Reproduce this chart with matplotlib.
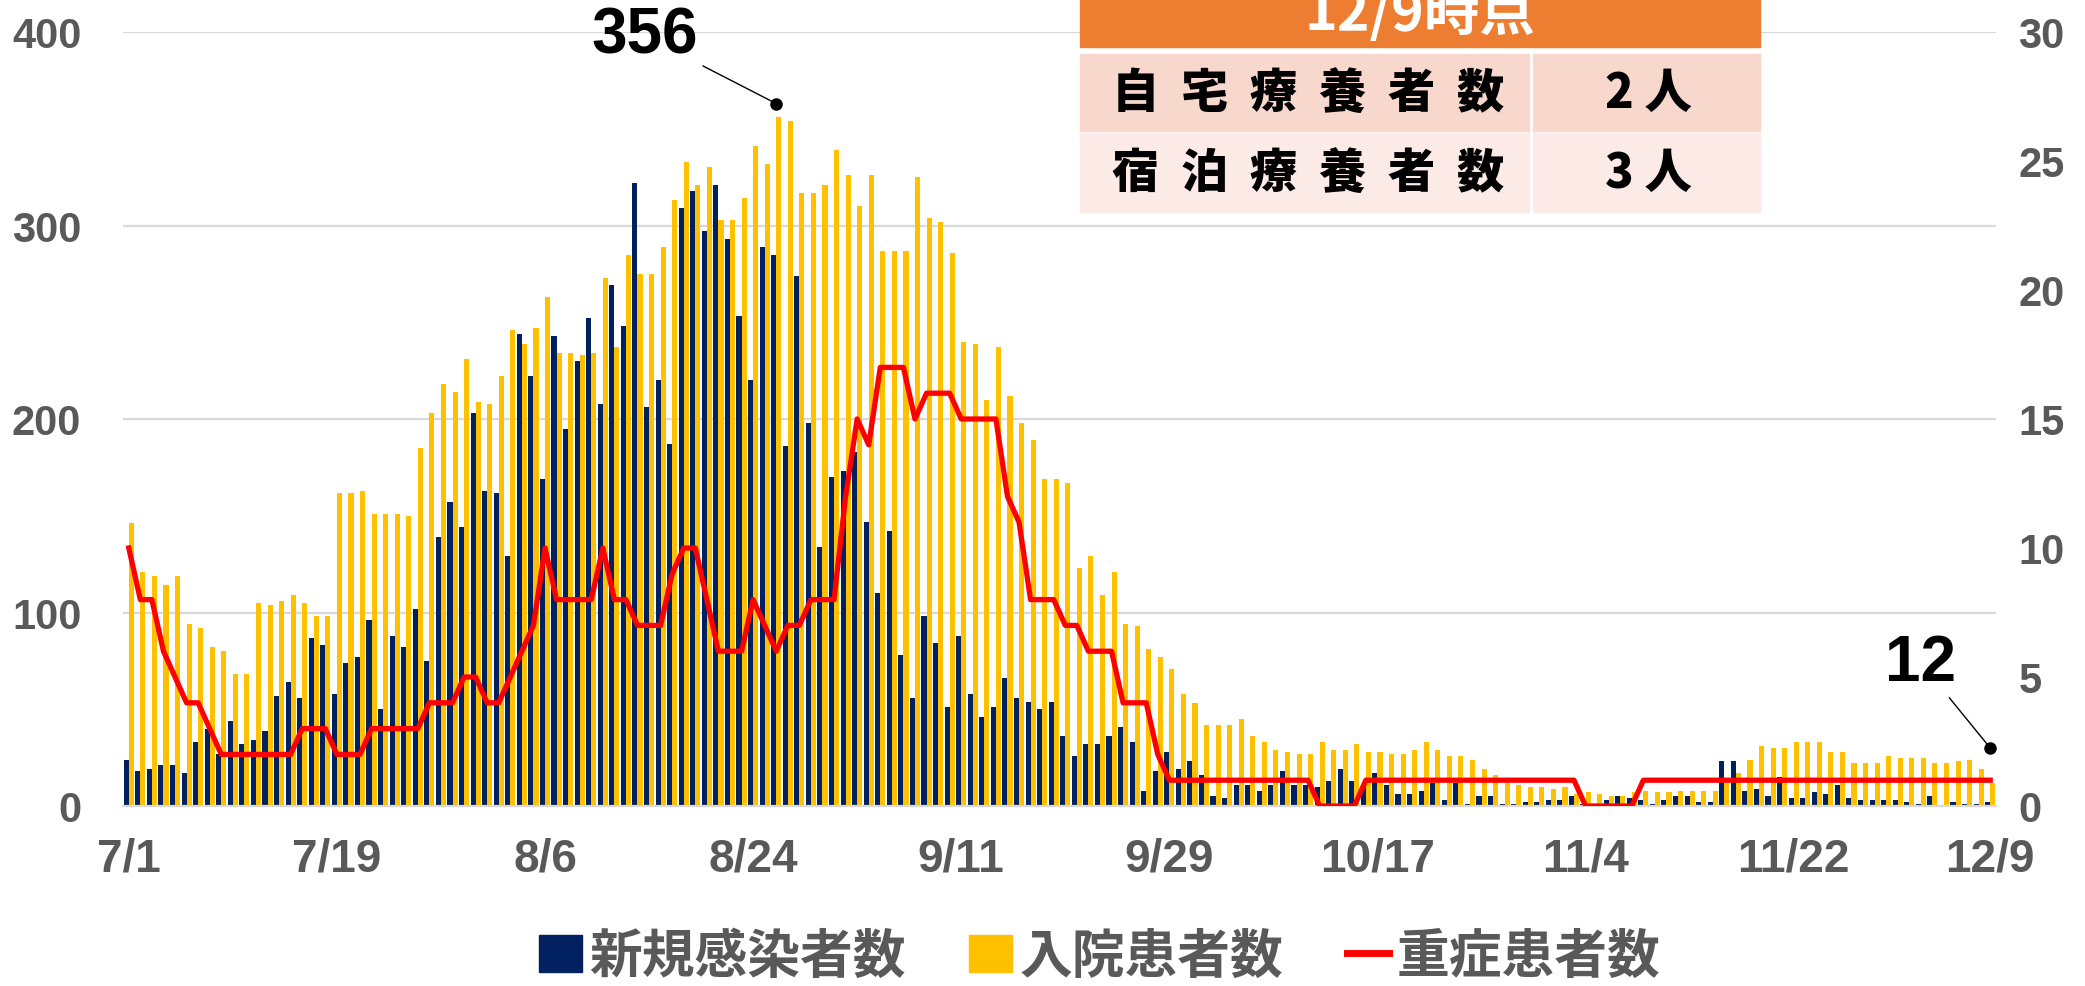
import numpy as np
import matplotlib
matplotlib.use("Agg")
import matplotlib.pyplot as plt
from matplotlib.patches import Patch, Rectangle
from matplotlib.lines import Line2D

plt.rcParams['font.family'] = ['Liberation Sans', 'Noto Sans CJK JP', 'DejaVu Sans']

# daily data 7/1 .. 12/9
new_cases = [24, 18, 19, 21, 21, 17, 33, 40, 27, 44, 32, 34, 39, 57, 64, 56, 87, 83, 58, 74,
             77, 96, 50, 88, 82, 102, 75, 139, 157, 144, 203, 163, 162, 129, 244, 222, 169, 243, 195, 230,
             252, 208, 269, 248, 322, 206, 220, 187, 309, 318, 297, 321, 293, 253, 220, 289, 285, 186, 274, 198,
             134, 170, 173, 183, 147, 110, 142, 78, 56, 98, 84, 51, 88, 58, 46, 51, 66, 56, 54, 50,
             54, 36, 26, 32, 32, 36, 41, 33, 8, 18, 28, 19, 23, 16, 5, 4, 11, 11, 8, 11,
             18, 11, 11, 10, 13, 19, 13, 10, 17, 11, 6, 6, 8, 12, 3, 12, 1, 5, 5, 1,
             1, 2, 2, 3, 3, 5, 1, 1, 3, 5, 4, 3, 1, 3, 5, 5, 2, 2, 23, 23,
             8, 9, 5, 15, 4, 4, 7, 6, 11, 4, 3, 3, 3, 3, 2, 1, 5, 0, 2, 1, 1, 2]
hospitalized = [146, 121, 119, 114, 119, 94, 92, 82, 80, 68, 68, 105, 104, 106, 109, 105, 98, 98, 162, 162,
                163, 151, 151, 151, 150, 185, 203, 218, 214, 231, 209, 208, 222, 246, 239, 247, 263, 234, 234, 233,
                234, 273, 237, 285, 275, 275, 289, 313, 333, 321, 330, 303, 303, 314, 341, 332, 356, 354, 317, 317,
                321, 339, 326, 310, 326, 287, 287, 287, 325, 304, 302, 286, 240, 239, 210, 237, 212, 198, 189, 169,
                169, 167, 123, 129, 109, 121, 94, 93, 81, 77, 71, 58, 53, 42, 42, 42, 45, 36, 33, 29,
                28, 27, 27, 33, 29, 29, 32, 28, 28, 27, 27, 29, 33, 29, 26, 26, 24, 19, 16, 12,
                11, 10, 10, 9, 10, 6, 7, 6, 5, 5, 7, 8, 7, 7, 8, 8, 8, 8, 12, 17,
                24, 31, 30, 30, 33, 33, 33, 28, 28, 22, 22, 22, 26, 25, 25, 25, 22, 22, 23, 24, 19, 12]
severe = [10, 8, 8, 6, 5, 4, 4, 3, 2, 2, 2, 2, 2, 2, 2, 3, 3, 3, 2, 2,
          2, 3, 3, 3, 3, 3, 4, 4, 4, 5, 5, 4, 4, 5, 6, 7, 10, 8, 8, 8,
          8, 10, 8, 8, 7, 7, 7, 9, 10, 10, 8, 6, 6, 6, 8, 7, 6, 7, 7, 8,
          8, 8, 12, 15, 14, 17, 17, 17, 15, 16, 16, 16, 15, 15, 15, 15, 12, 11, 8, 8,
          8, 7, 7, 6, 6, 6, 4, 4, 4, 2, 1, 1, 1, 1, 1, 1, 1, 1, 1, 1,
          1, 1, 1, 0, 0, 0, 0, 1, 1, 1, 1, 1, 1, 1, 1, 1, 1, 1, 1, 1,
          1, 1, 1, 1, 1, 1, 0, 0, 0, 0, 0, 1, 1, 1, 1, 1, 1, 1, 1, 1,
          1, 1, 1, 1, 1, 1, 1, 1, 1, 1, 1, 1, 1, 1, 1, 1, 1, 1, 1, 1, 1, 1]
tick_days = [0, 18, 36, 54, 72, 90, 108, 126, 144, 161]
tick_labels = ['7/1', '7/19', '8/6', '8/24', '9/11', '9/29', '10/17', '11/4', '11/22', '12/9']

table_rows = ['自  宅  療  養  者  数', '宿  泊  療  養  者  数']
table_vals = ['2 人', '3 人']
table_title = '12/9時点'

NAVY = '#002060'
YELLOW = '#FFC000'
RED = '#FF0000'
GRAY = '#595959'
CJK = ['Noto Sans CJK JP', 'DejaVu Sans']

W, H = 2085, 987
fig = plt.figure(figsize=(W / 100, H / 100), dpi=100)
ax = fig.add_axes([123 / W, 1 - 807 / H, (1996 - 123) / W, (807 - 33) / H])

days = np.arange(len(new_cases))
ax.bar(days - 0.22, new_cases, width=0.44, color=NAVY, zorder=2)
ax.bar(days + 0.22, hospitalized, width=0.44, color=YELLOW, zorder=2)
ax.set_xlim(-0.5, len(days) - 0.5)
ax.set_ylim(0, 400)
ax.set_yticks([0, 100, 200, 300, 400])
ax.yaxis.grid(True, color='#D9D9D9', lw=1.6)
ax.set_axisbelow(True)
for s in ['top', 'right', 'left']:
    ax.spines[s].set_visible(False)
ax.spines['bottom'].set_color('#D9D9D9')
ax.spines['bottom'].set_linewidth(1.6)
ax.set_xticks(tick_days)
ax.set_xticklabels(tick_labels)
ax.tick_params(axis='x', length=0, pad=22, labelsize=33, labelcolor=GRAY)
ax.tick_params(axis='y', length=0, pad=30, labelsize=30, labelcolor=GRAY)
for lab in ax.get_xticklabels() + ax.get_yticklabels():
    lab.set_fontweight('bold')

ax2 = ax.twinx()
ax2.plot(days, severe, color=RED, lw=3.8, zorder=5)
ax2.set_ylim(0, 30)
ax2.set_yticks([0, 5, 10, 15, 20, 25, 30])
ax2.tick_params(axis='y', length=0, pad=16, labelsize=30, labelcolor=GRAY)
for lab in ax2.get_yticklabels():
    lab.set_fontweight('bold')
for s in ax2.spines.values():
    s.set_visible(False)

# callouts
ax.annotate('356', xy=(56, 363), xytext=(44.6, 398), ha='center', va='center',
            fontsize=46, fontweight='bold', annotation_clip=False,
            arrowprops=dict(arrowstyle='-', color='black', lw=1, shrinkA=2, shrinkB=0))
ax.plot([56], [363], 'o', color='black', ms=8, clip_on=False, zorder=6)
ax.annotate('12', xy=(161, 30), xytext=(155, 74), ha='center', va='center',
            fontsize=46, fontweight='bold', annotation_clip=False,
            arrowprops=dict(arrowstyle='-', color='black', lw=1, shrinkA=2, shrinkB=0))
ax.plot([161], [30], 'o', color='black', ms=8, clip_on=False, zorder=6)

# info table
def px_rect(x0, y0, x1, y1, color):
    fig.patches.append(Rectangle((x0 / W, 1 - y1 / H), (x1 - x0) / W, (y1 - y0) / H,
                                 transform=fig.transFigure, color=color, zorder=10))

px_rect(1080, 0, 1760, 48, '#ED7D31')
fig.text(1420 / W, 1 - 30 / H, table_title, ha='center', va='baseline', color='white',
         fontsize=40, fontweight='bold', family=CJK, zorder=11)
row_y = [(55, 132), (134, 213)]
row_c = ['#F8D7CC', '#FBEAE6']
for (y0, y1), c, name, val in zip(row_y, row_c, table_rows, table_vals):
    px_rect(1080, y0, 1529, y1, c)
    px_rect(1533, y0, 1760, y1, c)
    yc = 1 - (y0 + y1) / 2 / H
    fig.text(1308 / W, yc, name, ha='center', va='center', fontsize=34,
             fontweight='heavy', family=CJK, zorder=11)
    fig.text(1648 / W, yc, val, ha='center', va='center', fontsize=34,
             fontweight='heavy', family=CJK, zorder=11)

handles = [Patch(color=NAVY), Patch(color=YELLOW), Line2D([], [], color=RED, lw=5)]
fig.legend(handles, ['新規感染者数', '入院患者数', '重症患者数'], loc='center',
           bbox_to_anchor=(1100 / W, 1 - 957 / H), ncol=3, frameon=False,
           prop=dict(family=CJK, weight='bold', size=38), labelcolor=GRAY,
           handlelength=0.8, handleheight=0.7, handletextpad=0.15, columnspacing=1.2)

fig.savefig('out.png', dpi=100)
